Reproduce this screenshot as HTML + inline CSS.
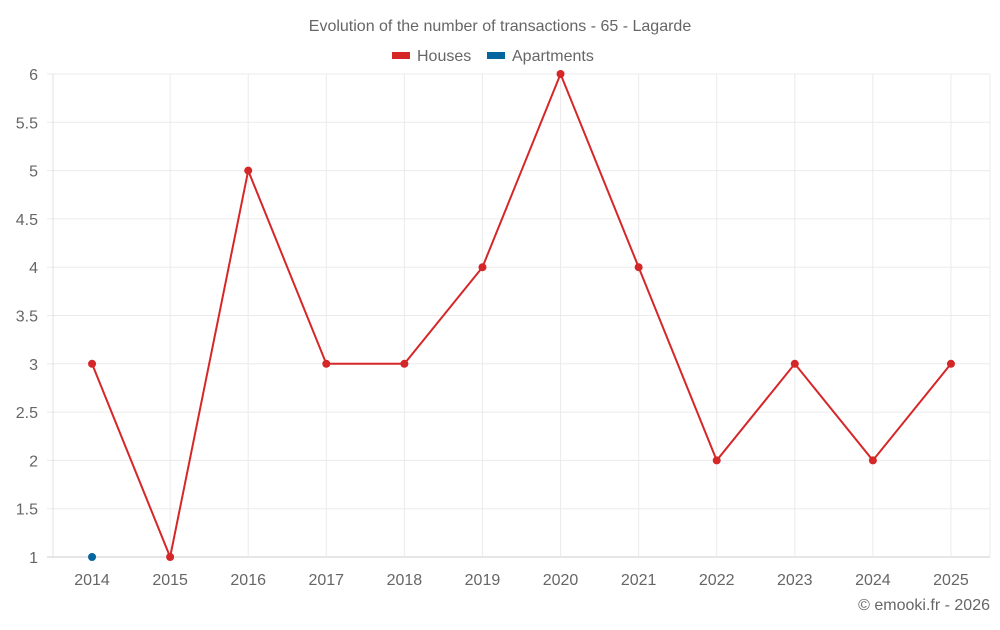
<!DOCTYPE html>
<html><head><meta charset="utf-8"><style>
body{margin:0;background:#fff;font-family:"Liberation Sans",sans-serif;}
svg text{font-family:"Liberation Sans",sans-serif;fill:#666;}
</style></head><body>
<svg id="c" width="1000" height="625">
<text x="500" y="31" text-anchor="middle" font-size="16">Evolution of the number of transactions - 65 - Lagarde</text>
<g>
<g><rect x="392" y="52" width="18" height="7" fill="#d62728"/><text x="417" y="61" font-size="16">Houses</text></g>
<g><rect x="487" y="52" width="18" height="7" fill="#05659f"/><text x="512" y="61" font-size="16">Apartments</text></g>
</g>
<g id="grid"></g>
<g id="axes"></g>
<g id="marks"></g>
<text x="990" y="610" text-anchor="end" font-size="16">© emooki.fr - 2026</text>
</svg>
<script>
const categories=["2014","2015","2016","2017","2018","2019","2020","2021","2022","2023","2024","2025"];
const houses=[3,1,5,3,3,4,6,4,2,3,2,3];
const apartments=[1,null,null,null,null,null,null,null,null,null,null,null];
const yTicks=[1,1.5,2,2.5,3,3.5,4,4.5,5,5.5,6];
const L=53,R=990,T=74,B=557,yMin=1,yMax=6;
const ns="http://www.w3.org/2000/svg";
const bw=(R-L)/categories.length;
function xs(i){return L+bw*(i+0.5);}
function ys(v){return B-(v-yMin)/(yMax-yMin)*(B-T);}
function mk(tag,attrs,parent){const e=document.createElementNS(ns,tag);for(const k in attrs)e.setAttribute(k,attrs[k]);document.getElementById(parent).appendChild(e);return e;}
yTicks.forEach(v=>{
 const l=mk('line',{x1:L-6,x2:R,y1:ys(v),y2:ys(v),stroke:v===yMin?'#ccc':'#ebebeb'},'grid');
 
 
 const t=mk('text',{x:38,y:ys(v)+6,'text-anchor':'end','font-size':16},'axes');
 t.textContent=v;
 
 
});
mk('line',{x1:L,x2:L,y1:T,y2:B,stroke:'#e0e0e0'},'grid');
mk('line',{x1:R,x2:R,y1:T,y2:B,stroke:'#ebebeb'},'grid');
categories.forEach((c,i)=>{
 if(i>0){
 const l=mk('line',{x1:xs(i),x2:xs(i),y1:T,y2:B,stroke:'#ebebeb'},'grid');
 
 
 }
 const t=mk('text',{x:xs(i),y:585,'text-anchor':'middle','font-size':16},'axes');
 t.textContent=c;
 
 
});
function series(vals,color,name){
 let d='';vals.forEach((v,i)=>{if(v!=null)d+=(d?'L':'M')+xs(i)+','+ys(v);});
 if(d.indexOf('L')>0){const p=mk('path',{d:d,fill:'none',stroke:color,'stroke-width':2},'marks');
 
 }
 vals.forEach((v,i)=>{if(v==null)return;
  const c=mk('circle',{cx:xs(i),cy:ys(v),r:4,fill:color},'marks');
  
  });
}
series(houses,'#d62728','houses');
series(apartments,'#05659f','apartments');
</script>
</body></html>
